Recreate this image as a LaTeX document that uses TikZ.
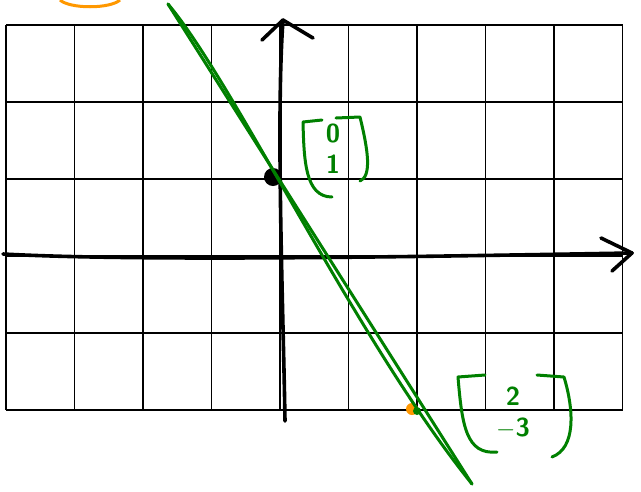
\documentclass[tikz,border=0pt]{standalone}
\usepackage{tikz}
\usetikzlibrary{arrows.meta,positioning}
\definecolor{penGreen}{RGB}{0,128,0}
\definecolor{penOrange}{RGB}{255,152,0}

\begin{document}
\begin{tikzpicture}[x=1pt, y=-1pt,
  gridline/.style={line width=1.7pt},
  axisline/.style={line width=3.6pt, line cap=round, line join=round},
  penline/.style={penGreen, line width=3pt, line cap=round, line join=round},
  vecnum/.style={penGreen, align=center, inner sep=0pt,
    font=\sffamily\bfseries\fontsize{26}{31}\selectfont}]
  \useasboundingbox[fill=white] (0,0) rectangle (641,491);
  % grid
  \foreach \gx in {6,74.5,...,624} \draw[gridline] (\gx,25) -- (\gx,410);
  \foreach \gy in {25,102,...,411} \draw[gridline] (6,\gy) -- (623,\gy);
  % axes
  \coordinate (xL) at (3,254);
  \coordinate (xR) at (632,253);
  \coordinate (yB) at (285,421);
  \coordinate (yT) at (283,20);
  \draw[axisline] (xL) .. controls (150,262) and (450,256) .. (xR);
  \draw[axisline] (601,238) -- (xR) -- (612,271);
  \draw[axisline] (yB) .. controls (283,300) and (276,120) .. (yT);
  \draw[axisline] (262,40) -- (yT) -- (313,38);
  % points
  \node[circle, fill=black, minimum size=18pt, inner sep=0pt] (p0) at (273,177) {};
  \node[circle, fill=penOrange, minimum size=12pt, inner sep=0pt] (p1) at (412,409) {};
  \node[circle, fill=penGreen, minimum size=8pt, inner sep=0pt] (p1g) at (417,411) {};
  % line
  \coordinate (lnTop) at (168,4);
  \coordinate (lnBot) at (472,484);
  \draw[penline] (lnTop) -- (lnBot);
  \draw[penline] (lnTop) .. controls (234,82) and (356,340) .. (lnBot);
  % vectors
  \node[vecnum] (vecA) at (333,149) {0\\1};
  \draw[penline] (322,120) -- (303,122) .. controls (304,160) and (305,197) .. (332,197);
  \draw[penline] (336,118) -- (360,117) .. controls (368,150) and (372,176) .. (360,181);
  \node[vecnum] (vecB) at (513,413) {2\\$-$3};
  \draw[penline] (485,375) -- (458,377) .. controls (462,425) and (466,455) .. (497,452);
  \draw[penline] (537,375) -- (564,377) .. controls (574,410) and (576,448) .. (552,457);
  % orange mark
  \draw[penOrange, line width=3pt] (60,0) .. controls (70,9) and (110,9) .. (120,0);
\end{tikzpicture}
\end{document}
